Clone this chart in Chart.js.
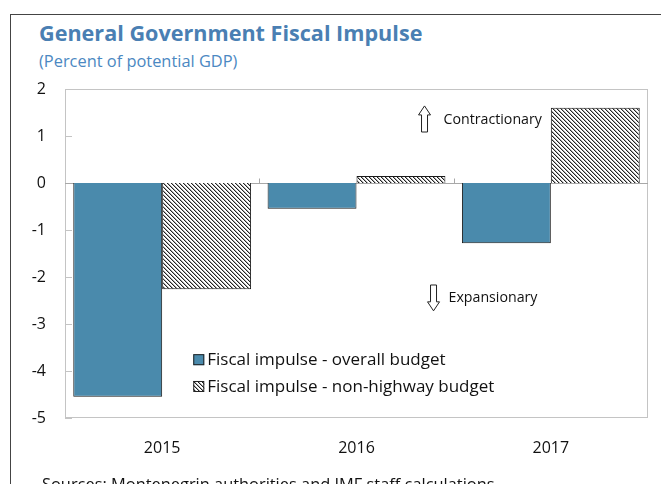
<!DOCTYPE html>
<html>
<head>
<meta charset="utf-8">
<script src="https://cdn.jsdelivr.net/npm/chart.js@4.4.1/dist/chart.umd.min.js"></script>
<style>
  html, body { margin: 0; padding: 0; background: #fff; overflow: hidden; }
  #wrap { position: relative; width: 661px; height: 484px; font-family: "Open Sans", "Noto Sans", sans-serif; }
  #frame { position: absolute; left: 10px; top: 14px; width: 700px; height: 500px; border-left: 1px solid #444; border-top: 1px solid #444; }
  #title { position: absolute; left: 39px; top: 18px; font-size: 21.6px; font-weight: 700; color: #4a7fb3; white-space: nowrap; }
  #subtitle { position: absolute; left: 39px; top: 49px; font-size: 16.4px; color: #4b88c2; white-space: nowrap; }
  #source { position: absolute; left: 42px; top: 472px; font-size: 16.4px; color: #111; white-space: nowrap; }
  canvas { position: absolute; left: 0; top: 0; }
</style>
</head>
<body>
<div id="wrap">
  <div id="frame"></div>
  <div id="title">General Government Fiscal Impulse</div>
  <div id="subtitle">(Percent of potential GDP)</div>
  <canvas id="fiscalChart" width="661" height="484"></canvas>
  <div id="source">Sources: Montenegrin authorities and IMF staff calculations.</div>
</div>
<script>
// data
const years = ["2015", "2016", "2017"];
const overallBudget = [-4.55, -0.55, -1.28];
const nonHighwayBudget = [-2.26, 0.15, 1.6];
const seriesNames = ["Fiscal impulse - overall budget", "Fiscal impulse - non-highway budget"];
const yTicks = [-5, -4, -3, -2, -1, 0, 1, 2];

const blue = "#4a8aac";
const tickFont = { family: "'Open Sans', 'Noto Sans', sans-serif", size: 16 };

// diagonal hatch, lines running top-left to bottom-right
function makeHatch() {
  const c = document.createElement("canvas");
  c.width = 4; c.height = 4;
  const g = c.getContext("2d");
  g.fillStyle = "#fff";
  g.fillRect(0, 0, 4, 4);
  for (let i = 0; i < 4; i++) {
    g.fillStyle = "#222";
    g.fillRect(i, i, 1, 1);
    g.fillStyle = "#aaa";
    g.fillRect((i + 1) % 4, i, 1, 1);
  }
  return g.createPattern(c, "repeat");
}
const hatch = makeHatch();

function hollowArrow(ctx, x, yTip, yTail, up) {
  // outlined block arrow
  const dir = up ? 1 : -1;
  const headH = 9, headW = 6, shaftW = 3;
  ctx.beginPath();
  ctx.moveTo(x, yTip);
  ctx.lineTo(x + headW, yTip + dir * headH);
  ctx.lineTo(x + shaftW, yTip + dir * headH);
  ctx.lineTo(x + shaftW, yTail);
  ctx.lineTo(x - shaftW, yTail);
  ctx.lineTo(x - shaftW, yTip + dir * headH);
  ctx.lineTo(x - headW, yTip + dir * headH);
  ctx.closePath();
  ctx.fillStyle = "#fff";
  ctx.fill();
  ctx.strokeStyle = "#222";
  ctx.lineWidth = 1;
  ctx.stroke();
}

const decorPlugin = {
  id: "decor",
  beforeDatasetsDraw(chart) {
    const { ctx, chartArea: a, scales: { x, y } } = chart;
    ctx.save();
    ctx.strokeStyle = "#c4c4c4";
    ctx.lineWidth = 1;
    ctx.strokeRect(a.left + 0.5, a.top + 0.5, a.width - 1, a.height - 1);
    // inner tick marks on y
    yTicks.forEach(v => {
      const py = Math.round(y.getPixelForValue(v)) + 0.5;
      ctx.beginPath();
      ctx.moveTo(a.left, py);
      ctx.lineTo(a.left + 7, py);
      ctx.stroke();
    });
    // zero line and category separators
    const zy = Math.round(y.getPixelForValue(0)) + 0.5;
    ctx.strokeStyle = "#a8a8a8";
    ctx.beginPath();
    ctx.moveTo(a.left, zy);
    ctx.lineTo(a.right, zy);
    ctx.stroke();
    for (let i = 1; i < years.length; i++) {
      const px = Math.round((x.getPixelForValue(i - 1) + x.getPixelForValue(i)) / 2) + 0.5;
      ctx.beginPath();
      ctx.moveTo(px, zy);
      ctx.lineTo(px, zy - 5);
      ctx.stroke();
    }
    ctx.restore();
  },
  afterDatasetsDraw(chart) {
    const { ctx, scales: { x, y } } = chart;
    ctx.save();
    ctx.textBaseline = "middle";
    // annotations
    const ax = x.getPixelForValue(1.35);
    hollowArrow(ctx, ax, y.getPixelForValue(1.64), y.getPixelForValue(1.085), true);
    hollowArrow(ctx, ax + 9, y.getPixelForValue(-2.72), y.getPixelForValue(-2.17), false);
    ctx.font = "14.2px 'Open Sans', 'Noto Sans', sans-serif";
    ctx.fillStyle = "#111";
    ctx.fillText("Contractionary", ax + 19, y.getPixelForValue(1.34));
    ctx.fillText("Expansionary", ax + 24, y.getPixelForValue(-2.45));
    // legend inside the plot
    const lx = x.getPixelForValue(0.16);
    ctx.font = "17px 'Open Sans', 'Noto Sans', sans-serif";
    chart.data.datasets.forEach((ds, i) => {
      const ly = y.getPixelForValue(-3.77 - i * 0.57);
      ctx.fillStyle = ds.backgroundColor;
      ctx.fillRect(lx, ly - 6, 11, 11);
      ctx.strokeStyle = "#222";
      ctx.strokeRect(lx + 0.5, ly - 5.5, 10, 10);
      ctx.fillStyle = "#111";
      ctx.fillText(seriesNames[i], lx + 14, ly);
    });
    ctx.restore();
  }
};

new Chart(document.getElementById("fiscalChart"), {
  type: "bar",
  data: {
    labels: years,
    datasets: [
      { label: seriesNames[0], data: overallBudget, backgroundColor: blue, borderColor: "#1a1a1a", borderWidth: 1 },
      { label: seriesNames[1], data: nonHighwayBudget, backgroundColor: hatch, borderColor: "#1a1a1a", borderWidth: 1 }
    ]
  },
  options: {
    responsive: false,
    animation: false,
    layout: { padding: { left: 0, top: 89, right: 13, bottom: 0 } },
    datasets: { bar: { categoryPercentage: 0.915, barPercentage: 1, borderSkipped: "start" } },
    plugins: {
      legend: { display: false },
      title: { display: false },
      tooltip: { enabled: false }
    },
    scales: {
      x: {
        grid: { display: false, drawTicks: false },
        border: { display: false },
        ticks: { font: tickFont, color: "#111", padding: 21 },
        afterFit: s => { s.height = 66; }
      },
      y: {
        min: -5,
        max: 2,
        grid: { display: false, drawTicks: false },
        border: { display: false },
        ticks: { stepSize: 1, font: tickFont, color: "#111", padding: 19 },
        afterFit: s => { s.width = 65; }
      }
    }
  },
  plugins: [decorPlugin]
});
</script>
</body>
</html>
